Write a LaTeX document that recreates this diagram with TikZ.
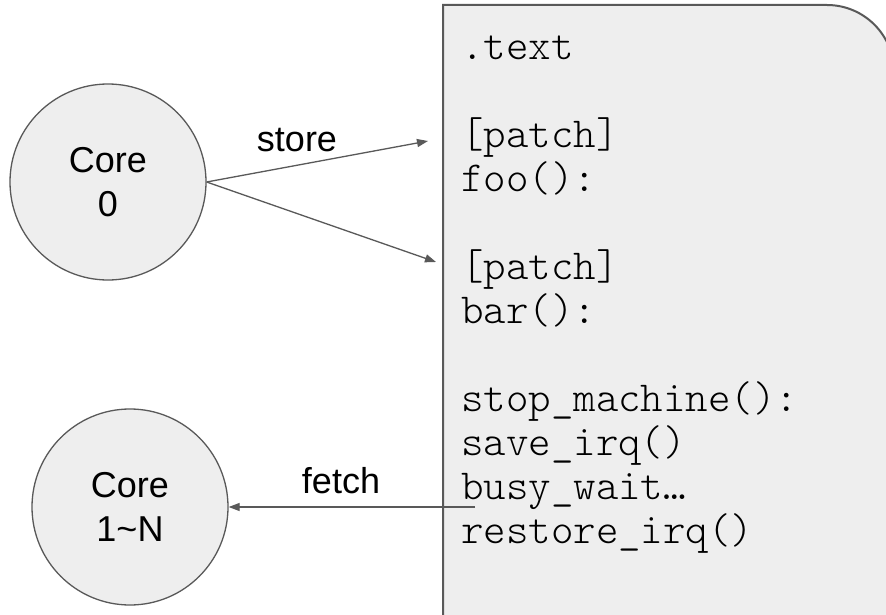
\documentclass[tikz,border=0pt]{standalone}
\usepackage{fontspec}
\setmainfont{Liberation Sans}
\setmonofont{Latin Modern Mono Light}
\usetikzlibrary{arrows.meta}
\definecolor{fillgray}{HTML}{EEEEEE}
\definecolor{linegray}{HTML}{595959}
\tikzset{
  core/.style={circle, draw=linegray, fill=fillgray, line width=1.3pt,
    minimum size=196pt, inner sep=0pt, align=center,
    font=\fontsize{36}{44}\selectfont},
  memorybox/.style={draw=linegray, fill=fillgray, line width=2pt},
  arr/.style={draw=linegray, line width=1.3pt, -{Triangle[length=11pt,width=8pt]}},
  lbl/.style={anchor=base, inner sep=0pt, font=\fontsize{36}{44}\selectfont},
  code/.style={anchor=base west, inner sep=0pt, align=left,
    font=\ttfamily\fontsize{42.8}{44}\selectfont}
}
\begin{document}
\begin{tikzpicture}[x=1pt,y=1pt]
  \clip (0,0) rectangle (886,-615);
  \fill[white] (0,0) rectangle (886,-615);
  % memory box with rounded top-right corner
  \draw[memorybox] (443,-630) -- (443,-5) -- (827,-5)
     arc[start angle=90,end angle=0,radius=67pt] -- (894,-630);
  % base west = baseline of the last line
  \node[code] (listing) at (461,-543) {.text\\ ~\\ {[}patch{]}\\ foo():\\ ~\\ {[}patch{]}\\ bar():\\ ~\\ stop\_machine():\\ save\_irq()\\ busy\_wait…\\ restore\_irq()};
  % cores
  \node[core] (core0) at (108,-182) {Core\\0};
  \node[core] (core1) at (130,-507) {Core\\1\textasciitilde N};
  % arrow endpoints
  \coordinate (s1) at (428,-141);
  \coordinate (s2) at (436,-262);
  \coordinate (f) at (475,-507);
  \draw[arr] (core0.east) -- (s1);
  \draw[arr] (core0.east) -- (s2);
  \draw[arr] (f) -- (core1);
  \node[lbl] (store) at (297,-152) {store};
  \node[lbl] (fetch) at (341,-493) {fetch};
\end{tikzpicture}
\end{document}
